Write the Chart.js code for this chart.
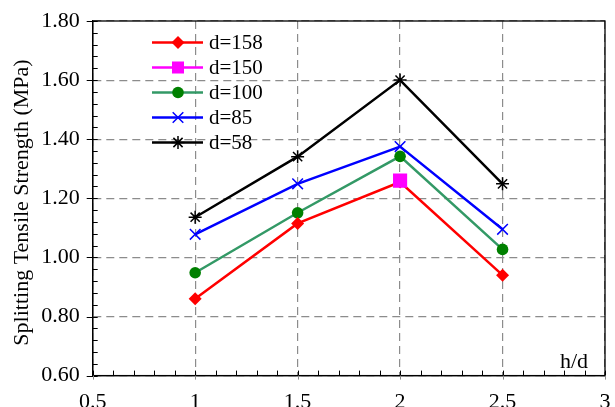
<!DOCTYPE html>
<html>
<head>
<meta charset="utf-8">
<script src="https://cdn.jsdelivr.net/npm/chart.js@4/dist/chart.umd.min.js"></script>
<style>
  html, body { margin: 0; padding: 0; background: #fff; overflow: hidden; }
  #wrap { width: 615px; height: 407px; overflow: hidden; }
</style>
</head>
<body>
<div id="wrap"><canvas id="c" width="615" height="440"></canvas></div>
<script>
// h/d ratio on the x axis
const hdRatio = [1, 1.5, 2, 2.5];

// splitting tensile strength (MPa) per specimen diameter
const d158 = [0.86, 1.115, 1.255, 0.94];
const d150 = [null, null, 1.26, null];
const d100 = [0.948, 1.151, 1.342, 1.027];
const d85 = [1.078, 1.249, 1.375, 1.095];
const d58 = [1.136, 1.341, 1.600, 1.249];

const seriesNames = ['d=158', 'd=150', 'd=100', 'd=85', 'd=58'];
const xTicks = [0.5, 1, 1.5, 2, 2.5, 3];
const yTicks = [0.6, 0.8, 1.0, 1.2, 1.4, 1.6, 1.8];
const yTitle = 'Splitting Tensile Strength (MPa)';
const xTitle = 'h/d';

const FONT = "'Liberation Serif', 'Times New Roman', serif";

const toPoints = vals => hdRatio.map((x, i) => ({ x: x, y: vals[i] }));

function mkSet(label, vals, line, mark, style, radius, order) {
  return {
    label: label,
    data: toPoints(vals),
    borderColor: line,
    backgroundColor: mark,
    pointBorderColor: mark,
    pointBackgroundColor: mark,
    pointStyle: style,
    pointRadius: radius,
    pointBorderWidth: (style === 'crossRot' || style === 'star') ? 1.5 : 0,
    borderWidth: 2.5,
    spanGaps: false,
    tension: 0,
    order: order
  };
}

const datasets = [
  mkSet(seriesNames[0], d158, '#ff0000', '#ff0000', 'rectRot', 6.5, 2),
  mkSet(seriesNames[1], d150, '#ff00ff', '#ff00ff', 'rect', 10, 1),
  mkSet(seriesNames[2], d100, '#339966', '#008000', 'circle', 5.8, 3),
  mkSet(seriesNames[3], d85, '#0000ff', '#0000ff', 'crossRot', 7.5, 4),
  mkSet(seriesNames[4], d58, '#000000', '#000000', 'star', 6.5, 5)
];

// frame, minor ticks, axis titles and the line+marker legend
const decorations = {
  id: 'decorations',
  afterDatasetsDraw(chart) {
    const { ctx, chartArea: a, scales } = chart;
    const xs = scales.x, ys = scales.y;
    ctx.save();
    ctx.strokeStyle = '#000';
    ctx.lineWidth = 1.3;
    ctx.strokeRect(a.left, a.top, a.right - a.left, a.bottom - a.top);

    ctx.lineWidth = 1;
    ctx.beginPath();
    for (let v = 0.6; v <= 1.8001; v += 0.04) {
      const y = Math.round(ys.getPixelForValue(v)) + 0.5;
      const major = Math.abs(v * 5 - Math.round(v * 5)) < 1e-6;
      ctx.moveTo(a.left - (major ? 6 : 0), y);
      ctx.lineTo(a.left + 5, y);
    }
    for (let v = 0.5; v <= 3.0001; v += 0.1) {
      const x = Math.round(xs.getPixelForValue(v)) + 0.5;
      ctx.moveTo(x, a.bottom);
      ctx.lineTo(x, a.bottom - 5);
    }
    ctx.stroke();

    // dashed grid stubs below the x axis
    ctx.strokeStyle = '#8c8c8c';
    ctx.setLineDash([4, 3]);
    ctx.beginPath();
    xTicks.forEach(v => {
      const x = Math.round(xs.getPixelForValue(v)) + 0.5;
      ctx.moveTo(x, a.bottom);
      ctx.lineTo(x, a.bottom + 7);
    });
    ctx.stroke();
    ctx.setLineDash([]);

    ctx.fillStyle = '#000';
    ctx.font = '22px ' + FONT;
    ctx.textAlign = 'right';
    ctx.textBaseline = 'alphabetic';
    ctx.fillText(xTitle, a.right - 17, a.bottom - 8);

    // rotated y title
    ctx.save();
    ctx.translate(22, 202.5);
    ctx.rotate(-Math.PI / 2);
    ctx.textAlign = 'center';
    ctx.textBaseline = 'middle';
    ctx.font = '22px ' + FONT;
    ctx.fillText(yTitle, 0, 0);
    ctx.restore();

    // legend
    const lx0 = 152, lx1 = 203, mx = 178, tx = 209;
    chart.data.datasets.forEach((ds, i) => {
      const y = 42.5 + i * 25;
      ctx.strokeStyle = ds.borderColor;
      ctx.lineWidth = ds.borderWidth;
      ctx.beginPath();
      ctx.moveTo(lx0, y);
      ctx.lineTo(lx1, y);
      ctx.stroke();
      ctx.lineWidth = ds.pointBorderWidth || 1;
      ctx.strokeStyle = ds.pointBorderColor;
      ctx.fillStyle = ds.pointBackgroundColor;
      Chart.helpers.drawPoint(ctx, {
        pointStyle: ds.pointStyle,
        radius: ds.pointStyle === 'rect' ? 8.5 : ds.pointRadius,
        rotation: 0,
        borderWidth: ds.pointBorderWidth
      }, mx, y);
      ctx.fillStyle = '#000';
      ctx.font = '21px ' + FONT;
      ctx.textAlign = 'left';
      ctx.textBaseline = 'middle';
      ctx.fillText(ds.label, tx, y + 1);
    });
    ctx.restore();
  }
};

new Chart(document.getElementById('c'), {
  type: 'line',
  data: { datasets: datasets },
  plugins: [decorations],
  options: {
    responsive: false,
    animation: false,
    devicePixelRatio: 1,
    layout: { padding: { left: 0, top: 21, right: 6, bottom: 0 } },
    plugins: { legend: { display: false }, tooltip: { enabled: false } },
    scales: {
      x: {
        type: 'linear',
        min: 0.5,
        max: 3,
        afterFit: s => { s.height = 64.4; s.paddingLeft = 0; s.paddingRight = 0; },
        afterBuildTicks: s => { s.ticks = xTicks.map(v => ({ value: v })); },
        ticks: {
          color: '#000',
          padding: 13.3,
          font: { family: FONT, size: 22 },
          callback: v => String(v)
        },
        grid: { color: '#8c8c8c', lineWidth: 1.2, drawTicks: false },
        border: { color: '#000', width: 1.3, dash: [8, 5] }
      },
      y: {
        min: 0.6,
        max: 1.8,
        afterFit: s => { s.width = 92.7; s.paddingTop = 0; s.paddingBottom = 0; },
        afterBuildTicks: s => { s.ticks = yTicks.map(v => ({ value: v })); },
        ticks: {
          color: '#000',
          padding: 13,
          font: { family: FONT, size: 22 },
          callback: v => Number(v).toFixed(2)
        },
        grid: { color: '#8c8c8c', lineWidth: 1.2, drawTicks: false },
        border: { color: '#000', width: 1.3, dash: [8, 5] }
      }
    }
  }
});
</script>
</body>
</html>
